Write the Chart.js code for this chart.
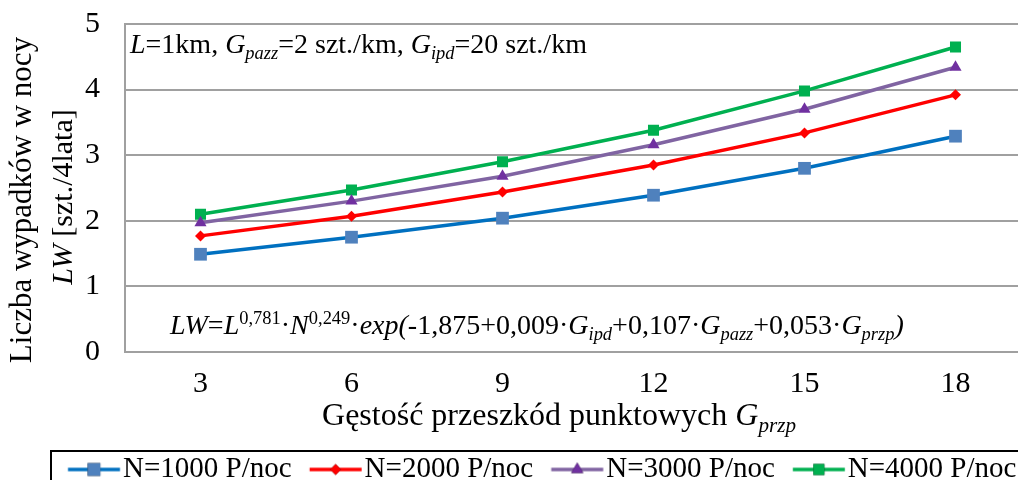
<!DOCTYPE html>
<html>
<head>
<meta charset="utf-8">
<script src="https://cdn.jsdelivr.net/npm/chart.js@4/dist/chart.umd.min.js"></script>
<style>
  html, body { margin: 0; padding: 0; background: #fff; overflow: hidden; }
  canvas { display: block; }
</style>
</head>
<body>
<canvas id="chart" width="1040" height="494"></canvas>
<script>
'use strict';

// data
var categories = ['3', '6', '9', '12', '15', '18'];
var n1000 = [1.49, 1.75, 2.04, 2.39, 2.80, 3.29];
var n2000 = [1.77, 2.07, 2.44, 2.85, 3.34, 3.92];
var n3000 = [1.97, 2.30, 2.68, 3.16, 3.70, 4.34];
var n4000 = [2.10, 2.47, 2.90, 3.38, 3.98, 4.65];
var seriesLabels = ['N=1000 P/noc', 'N=2000 P/noc', 'N=3000 P/noc', 'N=4000 P/noc'];
var yTicks = [0, 1, 2, 3, 4, 5];

var SERIF = "'Liberation Serif', 'Times New Roman', serif";
var LEGEND_FONT = 29;
var LEGEND_BOX = 54.5;
var SYMBOL_W = 82;

var styles = [
    { line: '#0070C0', marker: '#4F81BD', shape: 'rect', radius: 9 },
    { line: '#FF0000', marker: '#FF0000', shape: 'rectRot', radius: 5.5 },
    { line: '#8064A2', marker: '#7030A0', shape: 'triangle', radius: 7 },
    { line: '#00B050', marker: '#00B050', shape: 'rect', radius: 7.8 }
];

//Draw a run of text pieces (italic / sub / sup)
function drawRuns(ctx, x, y, runs, size) {
    ctx.save();
    ctx.textBaseline = 'alphabetic';
    ctx.textAlign = 'left';
    ctx.fillStyle = '#000';
    runs.forEach(function(r) {
        var s = size, dy = 0;
        if (r.sub) { s = size * 0.66; dy = size * 0.22; }
        if (r.sup) { s = size * 0.66; dy = -size * 0.36; }
        ctx.font = (r.i ? 'italic ' : '') + s + 'px ' + SERIF;
        ctx.fillText(r.t, x, y + dy);
        x += ctx.measureText(r.t).width;
    });
    ctx.restore();
}

function runsWidth(ctx, runs, size) {
    var w = 0;
    ctx.save();
    runs.forEach(function(r) {
        var s = (r.sub || r.sup) ? size * 0.66 : size;
        ctx.font = (r.i ? 'italic ' : '') + s + 'px ' + SERIF;
        w += ctx.measureText(r.t).width;
    });
    ctx.restore();
    return w;
}

//Legend symbol: line with marker in the middle
//the image is centred on the legend box, so the line sits at its right part
function legendSymbol(st) {
    var c = document.createElement('canvas');
    c.width = SYMBOL_W; c.height = 20;
    var g = c.getContext('2d');
    var x0 = 14 - (LEGEND_BOX / 2 - SYMBOL_W / 2);
    g.strokeStyle = st.line;
    g.lineWidth = 3.5;
    g.beginPath();
    g.moveTo(x0, 10);
    g.lineTo(x0 + 52, 10);
    g.stroke();
    Chart.helpers.drawPoint(g, { pointStyle: st.shape, radius: st.radius, rotation: 0, borderWidth: 0 }, x0 + 26, 10);
    g.fillStyle = st.marker;
    g.fill();
    return c;
}

var textPlugin = {
    id: 'texts',
    afterDraw: function(chart) {
        var ctx = chart.ctx;

        //legend frame
        ctx.save();
        ctx.strokeStyle = '#000';
        ctx.lineWidth = 2;
        ctx.strokeRect(51, 451, 1100, 100);
        ctx.restore();

        //annotations
        drawRuns(ctx, 130, 53, [
            { t: 'L', i: true }, { t: '=1km, ' },
            { t: 'G', i: true }, { t: 'pazz', i: true, sub: true }, { t: '=2 szt./km, ' },
            { t: 'G', i: true }, { t: 'ipd', i: true, sub: true }, { t: '=20 szt./km' }
        ], 28);

        drawRuns(ctx, 170, 334, [
            { t: 'LW', i: true }, { t: '=' }, { t: 'L', i: true }, { t: '0,781', sup: true },
            { t: '·' }, { t: 'N', i: true }, { t: '0,249', sup: true }, { t: '·' },
            { t: 'exp(', i: true }, { t: '-1,875+0,009·' },
            { t: 'G', i: true }, { t: 'ipd', i: true, sub: true }, { t: '+0,107·' },
            { t: 'G', i: true }, { t: 'pazz', i: true, sub: true }, { t: '+0,053·' },
            { t: 'G', i: true }, { t: 'przp', i: true, sub: true }, { t: ')', i: true }
        ], 28);

        //x axis title
        var xr = [{ t: 'Gęstość przeszkód punktowych ' }, { t: 'G', i: true }, { t: 'przp', i: true, sub: true }];
        var xw = runsWidth(ctx, xr, 32);
        drawRuns(ctx, 559 - xw / 2, 425, xr, 32);

        //y axis title, two rotated lines
        ctx.save();
        ctx.rotate(-Math.PI / 2);
        var y1 = [{ t: 'Liczba wypadków w nocy' }];
        var w1 = runsWidth(ctx, y1, 31);
        drawRuns(ctx, -200 - w1 / 2, 31, y1, 31);
        var y2 = [{ t: 'LW', i: true }, { t: ' [szt./4lata]' }];
        var w2 = runsWidth(ctx, y2, 30);
        drawRuns(ctx, -197 - w2 / 2, 72, y2, 30);
        ctx.restore();
    }
};

var datasets = [n1000, n2000, n3000, n4000].map(function(values, i) {
    var st = styles[i];
    return {
        label: seriesLabels[i],
        data: values,
        borderColor: st.line,
        backgroundColor: st.marker,
        borderWidth: 3.5,
        pointStyle: st.shape,
        pointRadius: st.radius,
        pointBorderWidth: 0,
        pointBackgroundColor: st.marker,
        tension: 0,
        fill: false
    };
});

var ctx = document.getElementById('chart');

var myChart = new Chart(ctx, {
    type: 'line',
    data: {
        labels: categories,
        datasets: datasets
    },
    options: {
        responsive: false,
        animation: false,
        devicePixelRatio: 1,
        layout: {
            padding: { left: 50, top: 24, right: 0, bottom: 0 }
        },
        plugins: {
            tooltip: { enabled: false },
            legend: {
                display: true,
                position: 'bottom',
                align: 'start',
                labels: {
                    usePointStyle: true,
                    pointStyleWidth: LEGEND_BOX,
                    padding: 4,
                    color: '#000',
                    font: { family: SERIF, size: LEGEND_FONT },
                    generateLabels: function(chart) {
                        return chart.data.datasets.map(function(ds, i) {
                            return {
                                text: ds.label,
                                pointStyle: legendSymbol(styles[i]),
                                fillStyle: 'transparent',
                                strokeStyle: 'transparent',
                                lineWidth: 0,
                                fontColor: '#000',
                                hidden: false,
                                datasetIndex: i
                            };
                        });
                    }
                }
            }
        },
        scales: {
            x: {
                offset: true,
                grid: { display: false, drawTicks: false },
                border: { display: false },
                ticks: {
                    color: '#000',
                    padding: 14,
                    font: { family: SERIF, size: 30 }
                },
                afterFit: function(s) {
                    s.height = s.chart.height - 352 - s.chart.legend.height;
                    s.paddingLeft = 0;
                    s.paddingRight = 0;
                }
            },
            y: {
                min: 0,
                max: 5,
                afterBuildTicks: function(s) {
                    s.ticks = yTicks.map(function(v) { return { value: v }; });
                },
                grid: { color: '#a0a0a0', lineWidth: 2, drawTicks: false },
                border: { display: true, color: '#a0a0a0', width: 2 },
                ticks: {
                    color: '#000',
                    padding: 25,
                    font: { family: SERIF, size: 30 }
                },
                afterFit: function(s) {
                    s.width = 75;
                    s.paddingTop = 0;
                    s.paddingBottom = 0;
                }
            }
        }
    },
    plugins: [textPlugin]
});
</script>
</body>
</html>
